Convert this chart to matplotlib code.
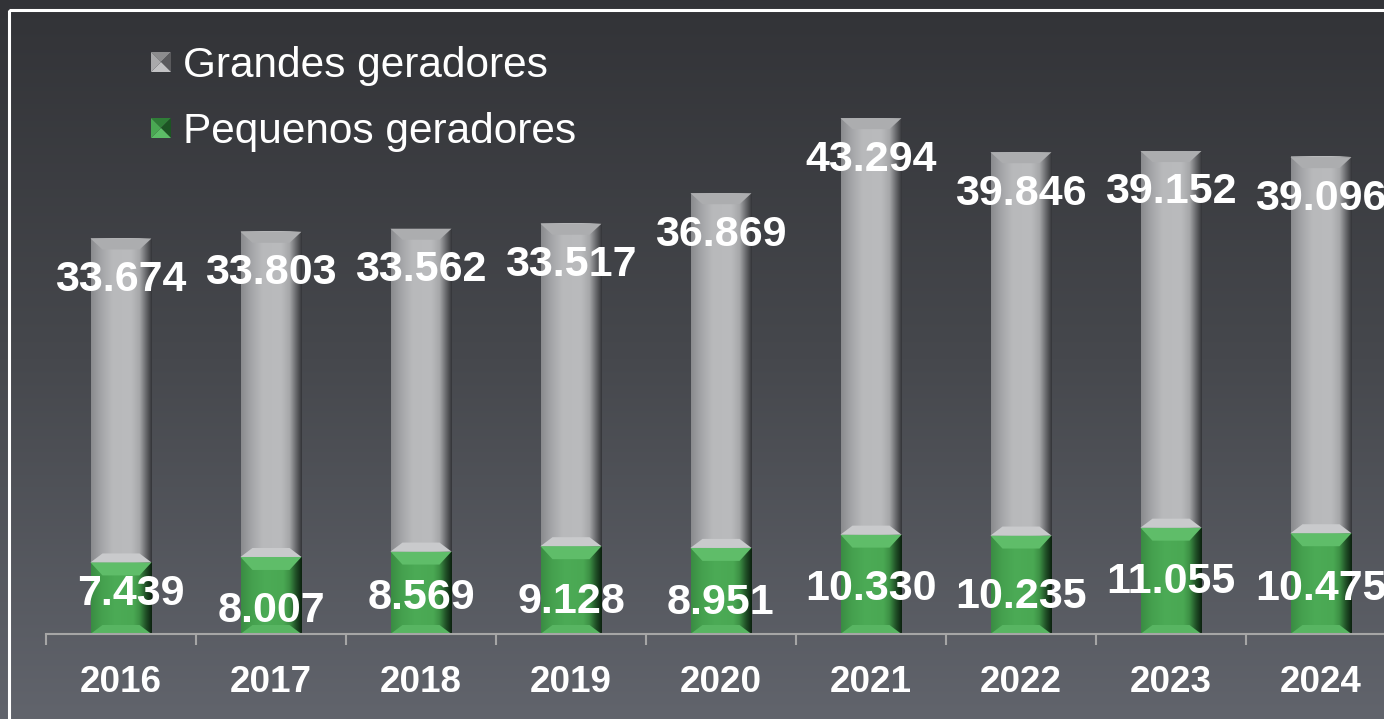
import numpy as np
import matplotlib as mpl
mpl.use('Agg')
import matplotlib.pyplot as plt
from matplotlib.colors import LinearSegmentedColormap
from matplotlib.patches import Polygon, Rectangle

plt.rcParams['font.family'] = ['Liberation Sans', 'DejaVu Sans']

years = ['2016', '2017', '2018', '2019', '2020', '2021', '2022', '2023', '2024']
pequenos = [7439, 8007, 8569, 9128, 8951, 10330, 10235, 11055, 10475]
grandes = [33674, 33803, 33562, 33517, 36869, 43294, 39846, 39152, 39096]
legend_labels = ['Grandes geradores', 'Pequenos geradores']

# where the green labels sit on the slide (px above the axis / px sideways)
green_lbl_px = [44, 27, 40, 36, 35, 49, 41, 56, 49]
green_lbl_dx = [10, 0, 0, 0, 0, 0, 0, 0, 0]

W, H, DPI = 1384, 719, 100
PXU = 0.00962          # pixels per data unit
BW = 61 / 150          # bar width in category units


def fmt(v):
    return '{:,}'.format(v).replace(',', '.')


GRAY = [(0.0, '#8a8b8e'), (0.17, '#a4a5a8'), (0.35, '#b8b9bb'), (0.66, '#babbbd'),
        (0.8, '#a6a7a9'), (0.9, '#6c6d70'), (1.0, '#35363a')]
GREEN = [(0.0, '#3a8c43'), (0.17, '#45a04e'), (0.4, '#4cab56'), (0.7, '#4aa853'),
         (0.8, '#3d9045'), (0.9, '#215228'), (1.0, '#0c220f')]


def bevel_seg(ax, xc, y0, y1, stops, top_col, bot_col, top_px=11, bot_px=10):
    x0, x1 = xc - BW / 2, xc + BW / 2
    cmap = LinearSegmentedColormap.from_list('seg', stops)
    ax.imshow(np.linspace(0, 1, 128)[None, :], cmap=cmap, extent=[x0, x1, y0, y1],
              aspect='auto', interpolation='bilinear', zorder=2)
    dx = 12 / 150
    dt = top_px / PXU
    db = bot_px / PXU
    ax.add_patch(Polygon([(x0, y1), (x1, y1), (x1 - dx, y1 - dt), (x0 + dx, y1 - dt)],
                         closed=True, fc=top_col, ec='none', zorder=3))
    ax.add_patch(Polygon([(x0, y0), (x1, y0), (x1 - dx, y0 + db), (x0 + dx, y0 + db)],
                         closed=True, fc=bot_col, ec='none', zorder=3))


fig = plt.figure(figsize=(W / DPI, H / DPI), dpi=DPI)

# background gradient
bg = fig.add_axes([0, 0, 1, 1], zorder=0)
bg_cmap = LinearSegmentedColormap.from_list('bg', ['#323337', '#46484d', '#61646c'])
bg.imshow(np.linspace(0, 1, 256)[:, None], cmap=bg_cmap, aspect='auto',
          extent=[0, 1, 0, 1], interpolation='bilinear')
bg.axis('off')

ax = fig.add_axes([46 / W, 85 / H, 1350 / W, 600 / H], zorder=1)
ax.patch.set_alpha(0)

for i in range(len(years)):
    p = pequenos[i]
    g = grandes[i]
    bevel_seg(ax, i, 0, p, GREEN, '#5fbd69', '#58b562', top_px=13, bot_px=9)
    bevel_seg(ax, i, p, p + g, GRAY, '#acadaf', '#c9cacc', top_px=11, bot_px=9)
    ax.annotate(fmt(g), xy=(i, p + g), xytext=(0, -52.4 * 0.72), textcoords='offset points',
                ha='center', va='baseline', fontsize=31, fontweight='bold', color='white', zorder=5)
    ax.annotate(fmt(p), xy=(i, 0),
                xytext=(green_lbl_dx[i] * 0.72, (green_lbl_px[i] - 15.4) * 0.72),
                textcoords='offset points', ha='center', va='baseline', fontsize=31,
                fontweight='bold', color='white', zorder=5)
    ax.annotate(years[i], xy=(i, 0), xytext=(0, -58.2 * 0.72), textcoords='offset points',
                ha='center', va='baseline', fontsize=26.5, fontweight='bold', color='white',
                annotation_clip=False)

ax.set_xlim(-0.5, 8.5)
ax.set_ylim(0, 600 / PXU)
for s in ['top', 'left', 'right']:
    ax.spines[s].set_visible(False)
ax.spines['bottom'].set_color('#a6a6a6')
ax.spines['bottom'].set_linewidth(1.5)
ax.spines['bottom'].set_zorder(4)
ax.set_yticks([])
ax.set_xticks(range(len(years)))
ax.set_xticklabels([])
ax.tick_params(axis='x', which='major', length=0)
ax.set_xticks(np.arange(-0.5, len(years), 1), minor=True)
ax.tick_params(axis='x', which='minor', length=8, width=1.5, color='#a6a6a6', direction='out')

# frame and legend, in pixel coordinates
ov = fig.add_axes([0, 0, 1, 1], zorder=3)
ov.set_xlim(0, W)
ov.set_ylim(H, 0)
ov.axis('off')
ov.add_patch(Rectangle((8.5, 9.5), W + 20, H + 20, fill=False, ec='white', lw=2.2))

swatches = [('#8c8c8e', '#5a5a5d', '#c2c2c4', '#a9a9ab'),
            ('#2f7d37', '#1c5423', '#5cbd66', '#4aa853')]
for k, lab in enumerate(legend_labels):
    x0, y0, s = 151, 52 + 66 * k, 20
    cx, cy = x0 + s / 2, y0 + s / 2
    top, right, bot, left = swatches[k]
    ov.add_patch(Polygon([(x0, y0), (x0 + s, y0), (cx, cy)], fc=top, ec='none'))
    ov.add_patch(Polygon([(x0 + s, y0), (x0 + s, y0 + s), (cx, cy)], fc=right, ec='none'))
    ov.add_patch(Polygon([(x0, y0 + s), (x0 + s, y0 + s), (cx, cy)], fc=bot, ec='none'))
    ov.add_patch(Polygon([(x0, y0), (x0, y0 + s), (cx, cy)], fc=left, ec='none'))
    ov.text(183, y0 + s / 2 + 15, lab, fontsize=30.5, color='white', va='baseline', ha='left')

fig.savefig('out.png', dpi=DPI)
